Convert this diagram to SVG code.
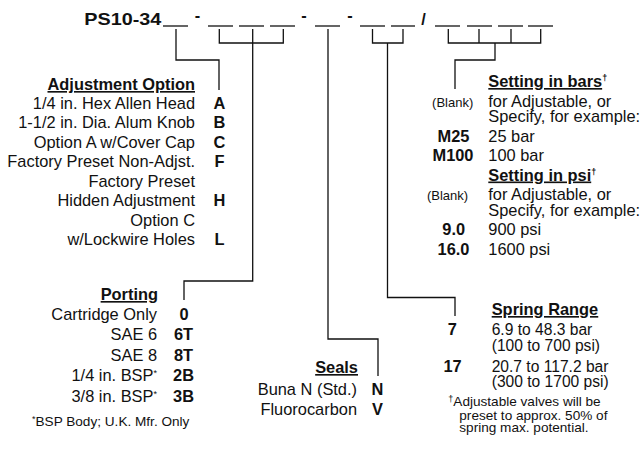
<svg xmlns="http://www.w3.org/2000/svg" width="641" height="450" viewBox="0 0 641 450">
<style>
text{font-family:"Liberation Sans",Arial,Helvetica,sans-serif;fill:#111;font-size:16.4px}
.b{font-weight:bold}
.e{text-anchor:end}
.m{text-anchor:middle}
.u{text-decoration:underline}
.sm{font-size:13px}
.fn{font-size:13.6px}
.sr{font-size:15.6px}
.sup{font-size:9px}
.blank{stroke:#111;stroke-width:1.3}
.con{fill:none;stroke:#111;stroke-width:1.3}
</style>
<rect width="641" height="450" fill="#fff"/>
<g id="title">
<text class="b" x="84.3" y="25" font-size="17.5" textLength="77" lengthAdjust="spacingAndGlyphs">PS10-34</text>
<g class="blank">
<line x1="163" y1="26" x2="188" y2="26"/>
<line x1="208" y1="26" x2="233" y2="26"/>
<line x1="239" y1="26" x2="264" y2="26"/>
<line x1="270" y1="26" x2="295" y2="26"/>
<line x1="315" y1="26" x2="340" y2="26"/>
<line x1="360" y1="26" x2="385" y2="26"/>
<line x1="391" y1="26" x2="415" y2="26"/>
<line x1="435" y1="26" x2="460" y2="26"/>
<line x1="467" y1="26" x2="492" y2="26"/>
<line x1="498" y1="26" x2="523" y2="26"/>
<line x1="528" y1="26" x2="553" y2="26"/>
</g>
<text class="b m" x="197.5" y="20.5" font-size="17">-</text>
<text class="b m" x="304" y="20.5" font-size="17">-</text>
<text class="b m" x="350" y="20.5" font-size="17">-</text>
<text class="b m" x="423.5" y="25" font-size="17">/</text>
</g>
<g id="connectors">
<path class="con" d="M176 29V60H219V90"/>
<path class="con" d="M219.3 29V43H283.3V29M252.7 29V281H184V300"/>
<path class="con" d="M328 29V339H378V376"/>
<path class="con" d="M372.5 29V43H403V29M387.5 43V297.5H455V316"/>
<path class="con" d="M448.3 29V43H540.7V29M479 29V43M511 29V43M495 43V60H455V89"/>
</g>
<g id="adjustment-option">
<text class="b e u" x="195" y="90">Adjustment Option</text>
<text class="e" x="195" y="108.5">1/4 in. Hex Allen Head</text>
<text class="e" x="195" y="128">1-1/2 in. Dia. Alum Knob</text>
<text class="e" x="195" y="147.5">Option A w/Cover Cap</text>
<text class="e" x="195" y="167">Factory Preset Non-Adjst.</text>
<text class="e" x="195" y="186.5">Factory Preset</text>
<text class="e" x="195" y="206">Hidden Adjustment</text>
<text class="e" x="195" y="225.5">Option C</text>
<text class="e" x="195" y="245">w/Lockwire Holes</text>
<text class="b m" x="219.5" y="108.5">A</text>
<text class="b m" x="219.5" y="128">B</text>
<text class="b m" x="219.5" y="147.5">C</text>
<text class="b m" x="219.5" y="167">F</text>
<text class="b m" x="219.5" y="206">H</text>
<text class="b m" x="219.5" y="245">L</text>
</g>
<g id="porting">
<text class="b e u" x="158" y="300">Porting</text>
<text class="e" x="157" y="319.5">Cartridge Only</text>
<text class="e" x="157" y="340">SAE 6</text>
<text class="e" x="157" y="360.5">SAE 8</text>
<text class="e" x="157" y="381">1/4 in. BSP<tspan class="sup" dy="-5">*</tspan></text>
<text class="e" x="157" y="401.5">3/8 in. BSP<tspan class="sup" dy="-5">*</tspan></text>
<text class="b m" x="184" y="319.5">0</text>
<text class="b m" x="183.5" y="340">6T</text>
<text class="b m" x="183.5" y="360.5">8T</text>
<text class="b m" x="183.5" y="381">2B</text>
<text class="b m" x="183.5" y="401.5">3B</text>
<text class="fn" x="32" y="426"><tspan class="sup" dy="-4">*</tspan><tspan dy="4">BSP Body; U.K. Mfr. Only</tspan></text>
</g>
<g id="seals">
<text class="b e u" x="358" y="373">Seals</text>
<text class="e" x="357" y="395">Buna N (Std.)</text>
<text class="e" x="357" y="414.5">Fluorocarbon</text>
<text class="b m" x="377.5" y="395">N</text>
<text class="b m" x="377.5" y="414.5">V</text>
</g>
<g id="setting">
<text class="b" x="488.3" y="87"><tspan class="u">Setting in bars</tspan><tspan class="sup" dy="-6">†</tspan></text>
<text class="sm m" x="452.7" y="106.5">(Blank)</text>
<text x="488.3" y="106.5">for Adjustable, or</text>
<text x="488.3" y="122">Specify, for example:</text>
<text class="b m" x="453.5" y="141.5">M25</text>
<text x="488.3" y="141.5">25 bar</text>
<text class="b m" x="453" y="161">M100</text>
<text x="488.3" y="161">100 bar</text>
<text class="b" x="488.3" y="180.5"><tspan class="u">Setting in psi</tspan><tspan class="sup" dy="-6">†</tspan></text>
<text class="sm m" x="447.5" y="200">(Blank)</text>
<text x="488.3" y="200">for Adjustable, or</text>
<text x="488.3" y="215.5">Specify, for example:</text>
<text class="b m" x="453.7" y="235">9.0</text>
<text x="488.3" y="235">900 psi</text>
<text class="b m" x="453.5" y="254.5">16.0</text>
<text x="488.3" y="254.5">1600 psi</text>
</g>
<g id="spring-range">
<text class="b u" x="491.7" y="315">Spring Range</text>
<text class="b m" x="452.3" y="335">7</text>
<text class="sr" x="491.7" y="335">6.9 to 48.3 bar</text>
<text class="sr" x="491.7" y="351">(100 to 700 psi)</text>
<text class="b m" x="452.5" y="371.5">17</text>
<text class="sr" x="491.7" y="371.5">20.7 to 117.2 bar</text>
<text class="sr" x="491.7" y="386.5">(300 to 1700 psi)</text>
<text class="fn" x="448.3" y="406"><tspan class="sup" dy="-4">†</tspan><tspan dy="4">Adjustable valves will be</tspan></text>
<text class="fn" x="459.3" y="419.5">preset to approx. 50% of</text>
<text class="fn" x="459.3" y="432">spring max. potential.</text>
</g>
</svg>
